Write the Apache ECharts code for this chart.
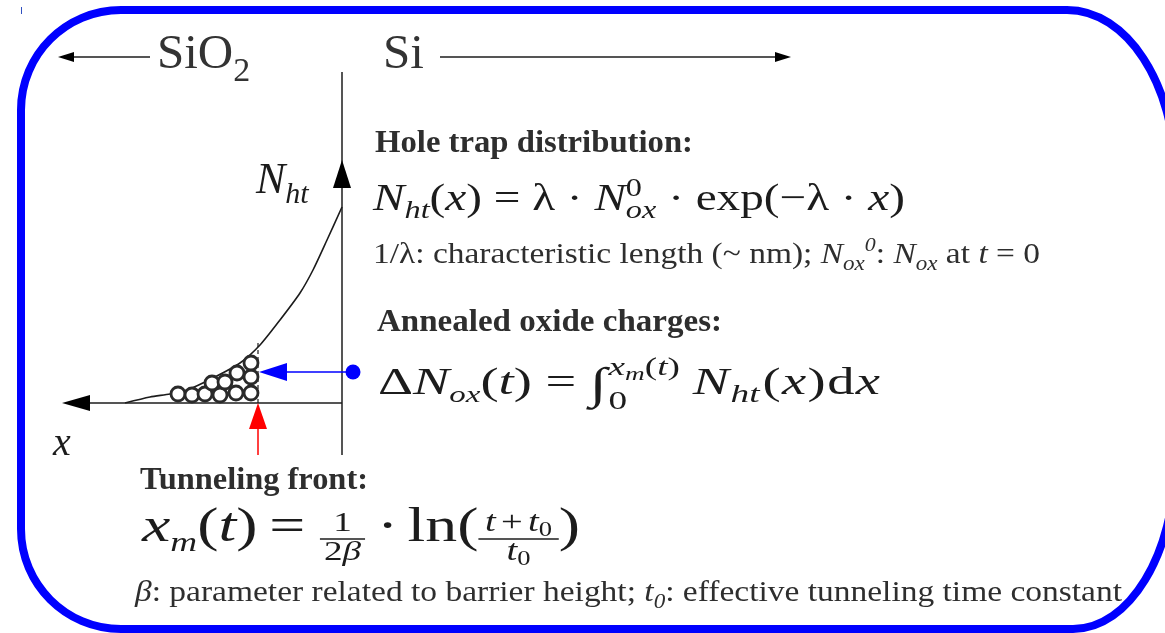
<!DOCTYPE html>
<html>
<head>
<meta charset="utf-8">
<script src="https://cdn.jsdelivr.net/npm/echarts@6/dist/echarts.min.js"></script>
<style>
  html, body { margin: 0; padding: 0; background: #fff; }
  #main { width: 1165px; height: 633px; }
</style>
</head>
<body>
<div id="main"></div>
<script>
// Hole-trap density N_ht versus depth into the oxide (depth grows to the left)
const trapDepth   = [0, 15, 29, 42, 62, 82, 102, 129, 155, 172, 192, 217];
const trapDensity = [196, 163, 133, 110, 83, 58, 40, 25, 13, 9, 6, 0];

// Traps already emptied by tunnelling, drawn as small circles under the curve
const annealedDepth = [164, 150, 137, 122, 106, 91, 130, 117, 105, 91, 91];
const annealedLevel = [9, 8, 9, 8, 10, 10, 20, 21, 30, 26, 40];

// Tunnelling front x_m(t), top of its dashed marker, and the probe level
const frontDepth = 84;
const frontLevel = 60;
const probeLevel = 31;
const probeDepth = -11;

// Extent of the Si/SiO2 interface line, in the same units as the curve
const interfaceSpan = [-52, 331];

const INK = '#1c1c1c';
const GREY = '#2e2e2e';
const BLUE = '#0000ff';
const SERIF = '"Liberation Serif", "Times New Roman", serif';

const chart = echarts.init(document.getElementById('main'), null, { renderer: 'canvas' });

chart.setOption({
  animation: false,
  backgroundColor: '#ffffff',
  grid: { left: 62, right: 823, top: 160, bottom: 230 },
  xAxis: { type: 'value', inverse: true, min: 0, max: 280, show: false },
  yAxis: { type: 'value', min: 0, max: 243, show: false },
  series: [
    {
      type: 'line',
      data: trapDepth.map((d, i) => [d, trapDensity[i]]),
      smooth: 0.25,
      symbol: 'none',
      lineStyle: { color: INK, width: 1.6 },
      z: 3
    },
    {
      type: 'scatter',
      data: annealedDepth.map((d, i) => [d, annealedLevel[i]]),
      symbol: 'circle',
      symbolSize: 14,
      itemStyle: { color: '#ffffff', borderColor: '#2a2a2a', borderWidth: 2.8, opacity: 1 },
      z: 4
    },
    {
      type: 'line',
      data: [[frontDepth, 0], [frontDepth, frontLevel]],
      symbol: 'none',
      lineStyle: { color: INK, width: 1.2, type: [4, 3] },
      z: 2
    }
  ]
});

// ---------- text layout helpers ----------
const measureCtx = document.createElement('canvas').getContext('2d');
function pieceFont(p) {
  return (p.it ? 'italic ' : 'normal ') + (p.bold ? 'bold ' : 'normal ') + p.size + 'px ' + SERIF;
}
function measure(p) {
  measureCtx.font = pieceFont(p);
  return measureCtx.measureText(p.t).width;
}
function textEl(p, x, base) {
  return {
    type: 'text', silent: true, x: x, y: base - 0.3375 * p.size,
    style: {
      text: p.t, font: pieceFont(p),
      fill: p.c || INK, align: 'left', textAlign: 'left',
      verticalAlign: 'middle', textVerticalAlign: 'middle'
    }
  };
}
// Lays pieces left to right on a baseline; returns the x where the run ends.
function layout(pieces, x, base, size, out, color) {
  for (const q of pieces) {
    const p = Object.assign({ size: size, c: color }, q);
    if (p.frac) {
      const f = p.frac;
      const wn = layout(f.num, 0, 0, f.size, []);
      const wd = layout(f.den, 0, 0, f.size, []);
      const w = Math.max(wn, wd) + 2 * f.pad;
      layout(f.num, x + (w - wn) / 2, base + f.numDy, f.size, out, color);
      layout(f.den, x + (w - wd) / 2, base + f.denDy, f.size, out, color);
      out.push({ type: 'line', silent: true,
        shape: { x1: x, y1: base + f.barDy, x2: x + w, y2: base + f.barDy },
        style: { stroke: color || INK, lineWidth: 1.6 } });
      x += w + (p.gap || 0);
      continue;
    }
    out.push(textEl(p, x + (p.dx || 0), base + (p.dy || 0)));
    if (!p.hold) x += measure(p) + (p.gap || 0);
  }
  return x;
}
// A run of text squeezed or stretched horizontally to span [x0, x1]
function textLine(pieces, x0, x1, base, size, color) {
  const children = [];
  const w = layout(pieces, 0, base, size, children, color);
  return { type: 'group', x: x0, y: 0, scaleX: (x1 - x0) / w, children: children };
}

// ---------- drawing ----------
const P = (d, l) => chart.convertToPixel({ gridIndex: 0 }, [d, l]);
const g = [];

// blue frame: straight sides joined by quarter-ellipse corners
const frameStyle = { stroke: BLUE, lineWidth: 8, fill: 'none' };
const K = 0.5523;
function corner(x1, y1, x2, y2, horizontalFirst) {
  const cp1 = horizontalFirst ? [x1 + (x2 - x1) * K, y1] : [x1, y1 + (y2 - y1) * K];
  const cp2 = horizontalFirst ? [x2, y2 - (y2 - y1) * K] : [x2 - (x2 - x1) * K, y2];
  return { type: 'bezierCurve', silent: true, z: 10,
    shape: { x1: x1, y1: y1, x2: x2, y2: y2, cpx1: cp1[0], cpy1: cp1[1], cpx2: cp2[0], cpy2: cp2[1] },
    style: frameStyle };
}
function side(x1, y1, x2, y2) {
  return { type: 'line', silent: true, z: 10, shape: { x1: x1, y1: y1, x2: x2, y2: y2 }, style: frameStyle };
}
g.push(side(121, 10, 1067, 10));
g.push(side(21, 110, 21, 529));
g.push(side(121, 629, 1073, 629));
g.push(side(1175, 175, 1175, 461));
g.push(corner(21, 110, 121, 10, false));
g.push(corner(1067, 10, 1175, 175, true));
g.push(corner(1175, 461, 1073, 629, false));
g.push(corner(121, 629, 21, 529, true));
g.push({ type: 'line', silent: true,
  shape: { x1: 21.5, y1: 7, x2: 21.5, y2: 14 },
  style: { stroke: '#3050c0', lineWidth: 1 } });

// interface line (vertical) with its upward arrow
const i0 = P(0, interfaceSpan[0]), i1 = P(0, interfaceSpan[1]);
g.push({ type: 'line', silent: true, shape: { x1: i0[0], y1: i0[1], x2: i1[0], y2: i1[1] },
  style: { stroke: INK, lineWidth: 1.5 } });
const yTip = P(0, 243);
g.push({ type: 'polygon', silent: true,
  shape: { points: [[yTip[0], yTip[1]], [yTip[0] - 9, yTip[1] + 28], [yTip[0] + 9, yTip[1] + 28]] },
  style: { fill: '#000' } });

// depth axis pointing left
const o = P(0, 0), xTip = P(280, 0);
g.push({ type: 'line', silent: true, shape: { x1: o[0], y1: o[1], x2: xTip[0] + 20, y2: xTip[1] },
  style: { stroke: INK, lineWidth: 1.5 } });
g.push({ type: 'polygon', silent: true,
  shape: { points: [[xTip[0], xTip[1]], [xTip[0] + 28, xTip[1] - 8], [xTip[0] + 28, xTip[1] + 8]] },
  style: { fill: '#000' } });

// red arrow marking the tunnelling front
const f0 = P(frontDepth, 0), f1 = P(frontDepth, interfaceSpan[0]);
g.push({ type: 'line', silent: true, shape: { x1: f0[0], y1: f0[1] + 20, x2: f1[0], y2: f1[1] },
  style: { stroke: '#ff0000', lineWidth: 1.5 } });
g.push({ type: 'polygon', silent: true,
  shape: { points: [[f0[0], f0[1]], [f0[0] - 9, f0[1] + 26], [f0[0] + 9, f0[1] + 26]] },
  style: { fill: '#ff0000' } });

// blue probe: dot on the silicon side, arrow to the front
const b0 = P(probeDepth, probeLevel), b1 = P(frontDepth, probeLevel);
g.push({ type: 'line', silent: true, shape: { x1: b0[0], y1: b0[1], x2: b1[0] + 20, y2: b1[1] },
  style: { stroke: BLUE, lineWidth: 1.5 } });
g.push({ type: 'polygon', silent: true,
  shape: { points: [[b1[0] + 1, b1[1]], [b1[0] + 29, b1[1] - 9], [b1[0] + 29, b1[1] + 9]] },
  style: { fill: BLUE } });
g.push({ type: 'circle', silent: true, shape: { cx: b0[0], cy: b0[1], r: 7.5 },
  style: { fill: BLUE } });

// region arrows at the top
g.push({ type: 'line', silent: true, shape: { x1: 150, y1: 57, x2: 68, y2: 57 },
  style: { stroke: INK, lineWidth: 1.5 } });
g.push({ type: 'polygon', silent: true, shape: { points: [[58, 57], [74, 52], [74, 62]] },
  style: { fill: '#000' } });
g.push({ type: 'line', silent: true, shape: { x1: 440, y1: 57, x2: 780, y2: 57 },
  style: { stroke: INK, lineWidth: 1.5 } });
g.push({ type: 'polygon', silent: true, shape: { points: [[791, 57], [775, 52], [775, 62]] },
  style: { fill: '#000' } });

const labels = [];
layout([{ t: 'SiO' }, { t: '2', size: 34, dy: 12 }], 157, 72, 49, labels, '#333');
layout([{ t: 'Si' }], 383, 72, 49, labels, '#333');
layout([{ t: 'N', it: true }, { t: 'ht', it: true, size: 30, dy: 9 }], 256, 196, 44, labels, INK);
layout([{ t: 'x', it: true }], 53, 458, 40, labels, INK);
g.push({ type: 'group', children: labels });

// headings
g.push(textLine([{ t: 'Hole trap distribution:', bold: true }], 375, 693, 155, 32, GREY));
g.push(textLine([{ t: 'Annealed oxide charges:', bold: true }], 377, 722, 334, 32, GREY));
g.push(textLine([{ t: 'Tunneling front:', bold: true }], 140, 368, 492, 32, GREY));

// N_ht(x) = λ·N_ox^0·exp(−λ·x)
g.push(textLine([
  { t: 'N', it: true }, { t: 'ht', it: true, size: 26, dy: 7 }, { t: '(' }, { t: 'x', it: true }, { t: ')' },
  { t: ' = ' }, { t: 'λ' }, { t: ' · ' },
  { t: 'N', it: true }, { t: '0', size: 26, dy: -15, hold: true }, { t: 'ox', it: true, size: 26, dy: 7 },
  { t: ' · exp(−' }, { t: 'λ' }, { t: ' · ' }, { t: 'x', it: true }, { t: ')' }
], 373, 905, 213, 38, INK));

g.push(textLine([
  { t: '1/λ: characteristic length (~ nm); ' },
  { t: 'N', it: true }, { t: 'ox', it: true, size: 20, dy: 6 }, { t: '0', it: true, size: 19, dy: -13 },
  { t: ': ' }, { t: 'N', it: true }, { t: 'ox', it: true, size: 20, dy: 6 },
  { t: ' at ' }, { t: 't', it: true }, { t: ' = 0' }
], 373, 1040, 265, 29, GREY));

// ΔN_ox(t) = ∫_0^{x_m(t)} N_ht(x)dx
g.push(textLine([
  { t: 'Δ' }, { t: 'N', it: true }, { t: 'ox', it: true, size: 23, dy: 7 }, { t: '(' }, { t: 't', it: true }, { t: ')' },
  { t: ' = ' }, { t: '∫', size: 44, dy: 4, gap: 1 },
  { t: '0', size: 26, dy: 14, hold: true },
  { t: 'x', it: true, size: 26, dy: -20 }, { t: 'm', it: true, size: 19, dy: -16 },
  { t: '(', size: 26, dy: -20 }, { t: 't', it: true, size: 26, dy: -20 }, { t: ')', size: 26, dy: -20, gap: 9 },
  { t: 'N', it: true, gap: 1 }, { t: 'ht', it: true, size: 26, dy: 7, gap: 2 }, { t: '(', gap: 1 }, { t: 'x', it: true, gap: 1 }, { t: ')', gap: 1 },
  { t: 'd', gap: 1 }, { t: 'x', it: true }
], 378, 880, 397, 38, INK));

// x_m(t) = 1/(2β) · ln((t+t0)/t0)
g.push(textLine([
  { t: 'x', it: true }, { t: 'm', it: true, size: 28, dy: 8 }, { t: '(' }, { t: 't', it: true }, { t: ')' },
  { t: '=', dx: 9, gap: 20 },
  { frac: { size: 28, pad: 3, numDy: -12, denDy: 17, barDy: -6,
      num: [{ t: '1' }], den: [{ t: '2' }, { t: 'β', it: true }] } },
  { t: '·', dx: 9, gap: 16 },
  { t: 'ln(' },
  { frac: { size: 29, pad: 5, numDy: -12, denDy: 17, barDy: -6,
      num: [{ t: 't', it: true, gap: 4 }, { t: '+', gap: 4 }, { t: 't', it: true }, { t: '0', size: 20, dy: 4 }],
      den: [{ t: 't', it: true }, { t: '0', size: 20, dy: 4 }] } },
  { t: ')' }
], 142, 580, 545, 48, INK));

g.push(textLine([
  { t: 'β', it: true }, { t: ': parameter related to barrier height; ' },
  { t: 't', it: true }, { t: '0', it: true, size: 20, dy: 6 },
  { t: ': effective tunneling time constant' }
], 135, 1122, 603, 29, GREY));

chart.setOption({ graphic: { elements: g } });
</script>
</body>
</html>
